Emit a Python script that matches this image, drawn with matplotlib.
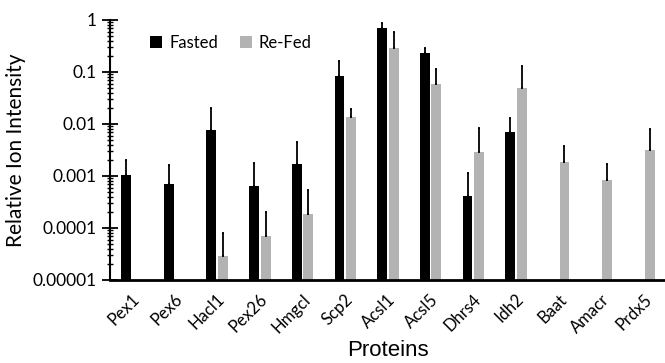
import matplotlib
matplotlib.use('Agg')
import matplotlib.pyplot as plt
import numpy as np

proteins = ['Pex1', 'Pex6', 'Hacl1', 'Pex26', 'Hmgcl', 'Scp2', 'Acsl1',
            'Acsl5', 'Dhrs4', 'Idh2', 'Baat', 'Amacr', 'Prdx5']

# nan = no bar for that group
fasted = [0.00104, 0.000702, 0.00767, 0.000643, 0.0017, 0.0838, 0.70,
          0.232, 0.000412, 0.00702, np.nan, np.nan, np.nan]
fasted_top = [0.00203, 0.00163, 0.0203, 0.0018, 0.0045, 0.163, 0.876,
              0.29, 0.00114, 0.013, np.nan, np.nan, np.nan]
refed = [np.nan, np.nan, 2.9e-5, 7.0e-5, 1.86e-4, 0.0136, 0.29,
         0.0588, 0.0029, 0.0492, 0.00186, 0.00084, 0.00316]
refed_top = [np.nan, np.nan, 8.0e-5, 2.03e-4, 5.4e-4, 0.0194, 0.588,
             0.114, 0.0084, 0.130, 0.0038, 0.0017, 0.0080]

TICK_FONT = 'Lato'
GREY = '#b3b3b3'


def upper_err(vals, tops):
  v = np.array(vals)
  t = np.array(tops)
  return [np.zeros_like(v), t - v]


fig = plt.figure(figsize=(6.65, 3.63), dpi=100)
ax = fig.add_axes([110 / 665, 1 - 280 / 363, 555 / 665, 260 / 363])

x = np.arange(len(proteins))
w = 0.23
ax.bar(x - 0.125, fasted, w, color='black', label='Fasted',
       yerr=upper_err(fasted, fasted_top), error_kw=dict(ecolor='black', elinewidth=1.3, capsize=1, capthick=1.3))
ax.bar(x + 0.145, refed, w, color=GREY, label='Re-Fed',
       yerr=upper_err(refed, refed_top), error_kw=dict(ecolor='black', elinewidth=1.3, capsize=1, capthick=1.3))

ax.set_yscale('log')
ax.set_ylim(1e-5, 1)
ax.set_xlim(-0.5, len(proteins) - 0.5)
ax.set_yticks([1e-5, 1e-4, 1e-3, 1e-2, 1e-1, 1])
ax.set_yticklabels(['0.00001', '0.0001', '0.001', '0.01', '0.1', '1'],
                   fontfamily=TICK_FONT, fontsize=12.5)
ax.yaxis.set_minor_locator(matplotlib.ticker.LogLocator(base=10, subs=np.arange(2, 10)))
ax.yaxis.set_minor_formatter(matplotlib.ticker.NullFormatter())
ax.tick_params(axis='y', which='major', direction='inout', length=11, width=1.3, pad=4)
ax.tick_params(axis='y', which='minor', direction='inout', length=5, width=1.0)

ax.set_xticks(x)
ax.set_xticklabels(proteins, rotation=45, ha='right', rotation_mode='anchor',
                   fontfamily=TICK_FONT, fontsize=12)
ax.tick_params(axis='x', length=0, pad=8)

for s in ['top', 'right']:
  ax.spines[s].set_visible(False)
ax.spines['left'].set_linewidth(1.5)
ax.spines['bottom'].set_linewidth(2)

ax.set_ylabel('Relative Ion Intensity', fontfamily=TICK_FONT, fontsize=15, labelpad=5)
ax.set_xlabel('Proteins', fontfamily='Liberation Sans', fontsize=16, labelpad=3)

ax.legend(loc='upper left', bbox_to_anchor=(0.045, 1.0), ncol=2, frameon=False,
          prop={'family': TICK_FONT, 'size': 12}, handlelength=0.75, handleheight=0.75,
          handletextpad=0.4, columnspacing=1.3)

fig.savefig('out.png', dpi=100)
